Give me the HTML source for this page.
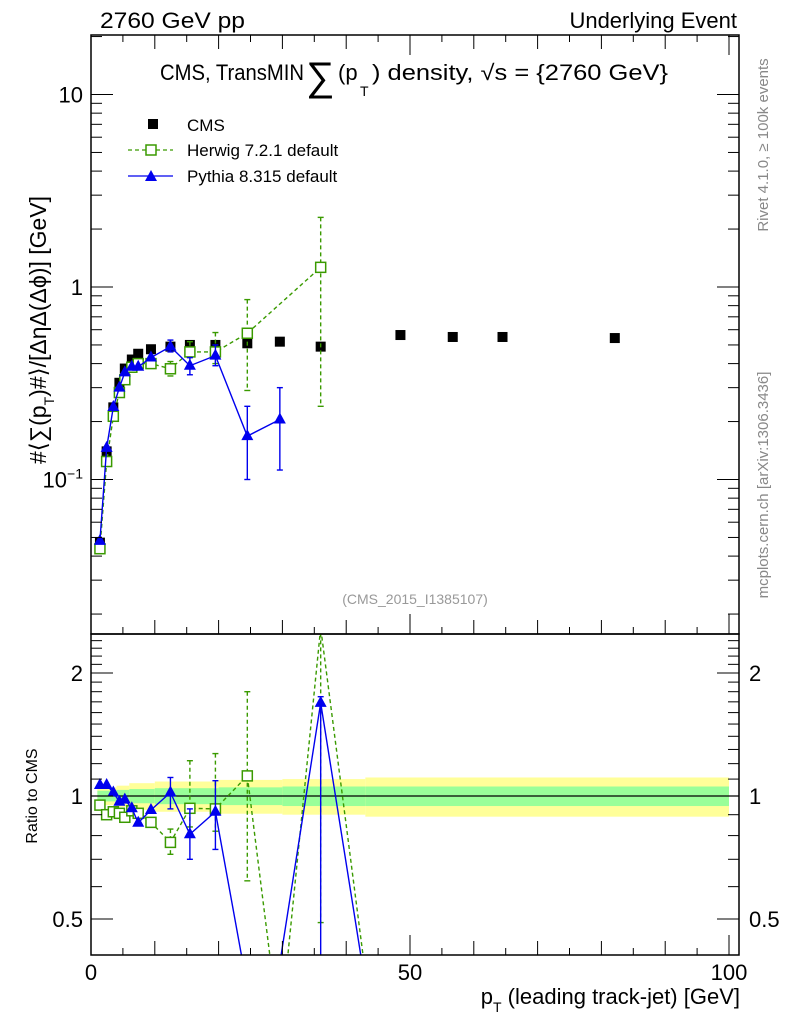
<!DOCTYPE html>
<html><head><meta charset="utf-8"><style>
html,body{margin:0;padding:0;background:#fff;width:786px;height:1024px;overflow:hidden;}
svg{display:block;font-family:"Liberation Sans",sans-serif;}
</style></head><body>
<svg id="c" width="786" height="1024" viewBox="0 0 786 1024" xmlns="http://www.w3.org/2000/svg">
<text x="100" y="28" font-size="22" textLength="145" lengthAdjust="spacingAndGlyphs">2760 GeV pp</text>
<text x="737" y="28" font-size="22" text-anchor="end">Underlying Event</text>
<g font-size="22">
<text x="160" y="80" textLength="144" lengthAdjust="spacingAndGlyphs">CMS, TransMIN</text>
<text x="306" y="90" font-size="40">∑</text>
<text x="338" y="80">(p</text><text x="360" y="96" font-size="14">T</text><text x="372" y="80" textLength="296" lengthAdjust="spacingAndGlyphs">) density, √s = {2760 GeV}</text>
</g>
<text x="415" y="604" font-size="14" fill="#999" text-anchor="middle">(CMS_2015_I1385107)</text>
<text transform="translate(768,145) rotate(-90)" font-size="15" fill="#888" text-anchor="middle">Rivet 4.1.0, ≥ 100k events</text>
<text transform="translate(768,485) rotate(-90)" font-size="15" fill="#888" text-anchor="middle">mcplots.cern.ch [arXiv:1306.3436]</text>
<text transform="translate(46,330) rotate(-90)" font-size="23" text-anchor="middle">#⟨∑(p<tspan font-size="14" dy="8">T</tspan><tspan dy="-8">)#⟩/[ΔηΔ(Δϕ)] [GeV]</tspan></text>
<text transform="translate(37,796) rotate(-90)" font-size="16" text-anchor="middle">Ratio to CMS</text>
<text x="740" y="1004" font-size="22" text-anchor="end">p<tspan font-size="14" dy="8">T</tspan><tspan dy="-8"> (leading track-jet) [GeV]</tspan></text>
<g>
<rect x="148" y="119" width="10" height="10" fill="#000"/>
<text x="187" y="131" font-size="17">CMS</text>
<line x1="128" y1="150" x2="173" y2="150" stroke="#3a9a00" stroke-width="1.3" stroke-dasharray="4,3"/>
<rect x="146" y="145" width="10" height="10" fill="#fff" stroke="#3a9a00" stroke-width="1.5"/>
<text x="187" y="156" font-size="17">Herwig 7.2.1 default</text>
<line x1="128" y1="176" x2="173" y2="176" stroke="#0000ee" stroke-width="1.3"/>
<polygon points="151,170 157,181 145,181" fill="#0000ee"/>
<text x="187" y="182" font-size="17">Pythia 8.315 default</text>
</g>
<g id="main"></g><g id="ratio"></g>
</svg>
<script>
const cmsX=[1.4,2.45,3.5,4.45,5.3,6.4,7.4,9.4,12.45,15.5,19.5,24.5,29.6,36,48.5,56.7,64.5,82.1];
const cmsY=[0.047,0.14,0.237,0.318,0.377,0.42,0.45,0.475,0.49,0.5,0.5,0.51,0.52,0.49,0.563,0.55,0.55,0.543];
const hwX=[1.4,2.45,3.5,4.45,5.3,6.4,7.4,9.4,12.45,15.5,19.5,24.5,36];
const hwY=[0.0437,0.124,0.213,0.283,0.33,0.383,0.40,0.40,0.376,0.46,0.46,0.575,1.265];
const hwLo=[0.0437,0.124,0.213,0.283,0.33,0.383,0.40,0.40,0.345,0.43,0.40,0.29,0.24];
const hwHi=[0.0437,0.124,0.213,0.283,0.33,0.383,0.40,0.40,0.41,0.52,0.58,0.86,2.3];
const pyX=[1.4,2.45,3.5,4.45,5.3,6.4,7.4,9.4,12.45,15.5,19.5,24.5,29.6];
const pyY=[0.048,0.146,0.238,0.30,0.36,0.385,0.385,0.43,0.49,0.39,0.44,0.168,0.205];
const pyLo=[0.048,0.146,0.238,0.30,0.36,0.385,0.385,0.43,0.46,0.35,0.39,0.10,0.112];
const pyHi=[0.048,0.146,0.238,0.30,0.36,0.385,0.385,0.43,0.53,0.43,0.50,0.24,0.30];
const rHwX=[1.4,2.45,3.5,4.45,5.3,6.4,7.4,9.4,12.45,15.5,19.5,24.5,29.6,36,48.5];
const rHwY=[0.95,0.90,0.915,0.907,0.887,0.92,0.907,0.862,0.77,0.933,0.93,1.12,0.26,2.58,0.08];
const rHwLo=[0.95,0.90,0.915,0.907,0.887,0.92,0.907,0.862,0.72,0.84,0.82,0.62,0.26,0.49,0.08];
const rHwHi=[0.95,0.90,0.915,0.907,0.887,0.92,0.907,0.862,0.83,1.22,1.27,1.8,0.26,4.7,0.08];
const rPyX=[1.4,2.45,3.5,4.45,5.3,6.4,7.4,9.4,12.45,15.5,19.5,24.5,29.6,36,48.5];
const rPyY=[1.064,1.064,1.02,0.968,0.98,0.933,0.86,0.924,1.02,0.806,0.915,0.34,0.39,1.69,0.1];
const rPyLo=[1.064,1.064,1.02,0.968,0.98,0.933,0.86,0.924,0.93,0.70,0.74,0.34,0.39,0.1,0.1];
const rPyHi=[1.064,1.064,1.02,0.968,0.98,0.933,0.86,0.924,1.11,0.93,1.09,0.34,0.39,1.75,0.1];
const bandEdges=[1,4,6,10,20,30,43,100];
const bandYellow=[0.05,0.06,0.075,0.085,0.095,0.10,0.11];
const bandGreen=[0.03,0.035,0.04,0.045,0.05,0.055,0.055];

const NS="http://www.w3.org/2000/svg";
const L=91,R=739,T=35,MB=634,RB=955;
const sx=v=>L+v*6.38;
const sy=v=>287-192.5*Math.log10(v);
const ry=v=>796-123*Math.log2(v);
function mk(p,tag,at){const e=document.createElementNS(NS,tag);for(const k in at)e.setAttribute(k,at[k]);p.appendChild(e);return e;}
const main=document.getElementById('main'),ratio=document.getElementById('ratio');
const G='#3a9a00',B='#0000ee';
const defs=mk(document.getElementById('c'),'defs',{});
const c1=mk(defs,'clipPath',{id:'cm'});mk(c1,'rect',{x:L,y:T,width:R-L,height:MB-T});
const c2=mk(defs,'clipPath',{id:'cr'});mk(c2,'rect',{x:L,y:MB,width:R-L,height:RB-MB});
const mg=mk(main,'g',{'clip-path':'url(#cm)'});
const rg=mk(ratio,'g',{'clip-path':'url(#cr)'});
for(let i=0;i<bandYellow.length;i++){
 const x1=sx(bandEdges[i]),x2=sx(bandEdges[i+1]);
 const y=mk(rg,'rect',{x:x1,y:ry(1+bandYellow[i]),width:x2-x1,height:ry(1-bandYellow[i])-ry(1+bandYellow[i]),fill:'#ffff99'});
 
 
 const g=mk(rg,'rect',{x:x1,y:ry(1+bandGreen[i]),width:x2-x1,height:ry(1-bandGreen[i])-ry(1+bandGreen[i]),fill:'#99ff99'});
 
 
}
mk(rg,'line',{x1:L,x2:R,y1:ry(1),y2:ry(1),stroke:'#000','stroke-width':1.3});
function series(g,X,Y,Lo,Hi,f,col,dash,mark,name){
 const pts=X.map((x,i)=>sx(x)+','+f(Y[i])).join(' ');
 const pl=mk(g,'polyline',{points:pts,fill:'none',stroke:col,'stroke-width':1.4});
 if(dash)pl.setAttribute('stroke-dasharray','4,3');
 
 
 X.forEach((x,i)=>{
  if(Hi[i]!==Lo[i]){const e=mk(g,'g',{stroke:col,'stroke-width':1.4});
   const ln=mk(e,'line',{x1:sx(x),x2:sx(x),y1:f(Hi[i]),y2:f(Lo[i])});if(dash)ln.setAttribute('stroke-dasharray','4,3');
   mk(e,'line',{x1:sx(x)-3,x2:sx(x)+3,y1:f(Hi[i]),y2:f(Hi[i])});mk(e,'line',{x1:sx(x)-3,x2:sx(x)+3,y1:f(Lo[i]),y2:f(Lo[i])});
   
   }
  const cx=sx(x),cy=f(Y[i]);let m;
  if(mark==='sq')m=mk(g,'rect',{x:cx-5,y:cy-5,width:10,height:10,fill:'#fff',stroke:col,'stroke-width':1.5});
  else m=mk(g,'polygon',{points:`${cx},${cy-7} ${cx+6},${cy+4} ${cx-6},${cy+4}`,fill:col});
  
  
 });
}
cmsX.forEach((x,i)=>{const r=mk(mg,'rect',{x:sx(x)-5,y:sy(cmsY[i])-5,width:10,height:10,fill:'#000'});
 
 });
series(mg,hwX,hwY,hwLo,hwHi,sy,G,true,'sq','herwig');
series(mg,pyX,pyY,pyLo,pyHi,sy,B,false,'tri','pythia');
series(rg,rHwX,rHwY,rHwLo,rHwHi,ry,G,true,'sq','herwig-ratio');
series(rg,rPyX,rPyY,rPyLo,rPyHi,ry,B,false,'tri','pythia-ratio');
const f1=mk(main,'rect',{x:L,y:T,width:R-L,height:MB-T,fill:'none',stroke:'#000','stroke-width':1.5});

const f2=mk(ratio,'rect',{x:L,y:MB,width:R-L,height:RB-MB,fill:'none',stroke:'#000','stroke-width':1.5});

const ax=mk(document.getElementById('c'),'g',{stroke:'#000','stroke-width':1});
for(let d=-2;d<=1;d++)for(let k=1;k<=9;k++){const v=k*Math.pow(10,d);const y=sy(v);if(y<T||y>MB)continue;
 const len=k===1?22:11;mk(ax,'line',{x1:L,x2:L+len,y1:y,y2:y});mk(ax,'line',{x1:R,x2:R-len,y1:y,y2:y});}
const rt=[0.5,0.6,0.7,0.8,0.9,1,1.1,1.2,1.3,1.4,1.5,1.6,1.7,1.8,1.9,2,2.1,2.2,2.3,2.4];
rt.forEach(v=>{const y=ry(v);const len=(v===0.5||v===1||v===2)?22:11;mk(ax,'line',{x1:L,x2:L+len,y1:y,y2:y});mk(ax,'line',{x1:R,x2:R-len,y1:y,y2:y});});
for(let v=0;v<=100;v+=5){const x=sx(v);const len=v%50===0?20:(v%10===0?14:7);
 mk(ax,'line',{x1:x,x2:x,y1:RB,y2:RB-len});mk(ax,'line',{x1:x,x2:x,y1:MB,y2:MB-len});mk(ax,'line',{x1:x,x2:x,y1:T,y2:T+len});}
const tl=mk(document.getElementById('c'),'g',{'font-size':22});
const yl=[['10',sy(10)],['1',sy(1)]];
yl.forEach(([t,y])=>{const e=mk(tl,'text',{x:L-8,y:y+8,'text-anchor':'end'});e.textContent=t;
 });
const e10=mk(tl,'text',{x:L-8,y:sy(0.1)+8,'text-anchor':'end'});e10.innerHTML='10<tspan font-size="14" dy="-9">−1</tspan>';

const rl=['2','1','0.5'],rv=[2,1,0.5];
rl.forEach((t,i)=>{const a=mk(tl,'text',{x:L-8,y:ry(rv[i])+8,'text-anchor':'end'});a.textContent=t;
 
 const b=mk(tl,'text',{x:R+10,y:ry(rv[i])+8});b.textContent=t;
 });
const xl=['0','50','100'],xv=[0,50,100];
xl.forEach((t,i)=>{const a=mk(tl,'text',{x:sx(xv[i]),y:980,'text-anchor':'middle'});a.textContent=t;
 });
</script>
</body></html>
